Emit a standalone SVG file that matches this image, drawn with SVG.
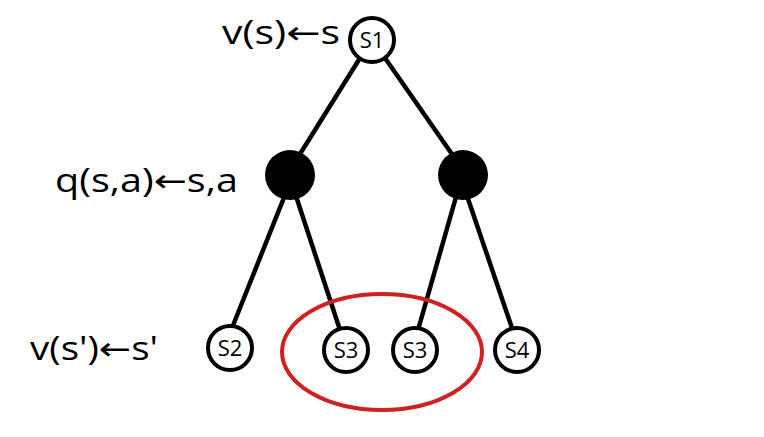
<svg xmlns="http://www.w3.org/2000/svg" width="764" height="437" viewBox="0 0 764 437">
<style>
.n{fill:#fff;stroke:#000;stroke-width:4}
.f{fill:#000}
.e{stroke:#000;stroke-width:4.5;fill:none}
.t{font-family:"Open Sans","Liberation Sans",sans-serif;font-size:22px;fill:#000;text-anchor:middle}
.l{font-family:"Open Sans","Liberation Sans",sans-serif;font-size:32px;fill:#000}
.a{font-family:"DejaVu Sans",sans-serif}
</style>
<rect width="764" height="437" fill="#fff"/>
<g id="connectors">
<line class="e" x1="360" y1="58" x2="290" y2="170"/>
<line class="e" x1="385" y1="58" x2="463" y2="170"/>
<line class="e" x1="287" y1="190" x2="232" y2="328"/>
<line class="e" x1="294" y1="190" x2="340" y2="330"/>
<line class="e" x1="458" y1="190" x2="418" y2="330"/>
<line class="e" x1="465" y1="190" x2="512" y2="328"/>
</g>
<g id="s1"><circle class="n" cx="372" cy="40" r="22"/><text class="t" x="372" y="48">S1</text></g>
<g id="qa"><circle class="f" cx="290" cy="175" r="25"/></g>
<g id="qb"><circle class="f" cx="463" cy="175" r="25"/></g>
<g id="s2"><circle class="n" cx="230" cy="348" r="22"/><text class="t" x="230" y="356">S2</text></g>
<g id="s3a"><circle class="n" cx="346" cy="350" r="22"/><text class="t" x="346" y="358">S3</text></g>
<g id="s3b"><circle class="n" cx="415" cy="350" r="22"/><text class="t" x="415" y="358">S3</text></g>
<g id="s4"><circle class="n" cx="517" cy="350" r="22"/><text class="t" x="517" y="358">S4</text></g>
<g id="highlight"><ellipse cx="382" cy="352" rx="100" ry="58" fill="none" stroke="#d02020" stroke-width="4"/></g>
<g id="labels">
<text class="l" x="222" y="44" textLength="118" lengthAdjust="spacingAndGlyphs">v(s)<tspan class="a">←</tspan>s</text>
<text class="l" x="55" y="192" textLength="183" lengthAdjust="spacingAndGlyphs">q(s,a)<tspan class="a">←</tspan>s,a</text>
<text class="l" x="30" y="360" textLength="128" lengthAdjust="spacingAndGlyphs">v(s')<tspan class="a">←</tspan>s'</text>
</g>
</svg>
